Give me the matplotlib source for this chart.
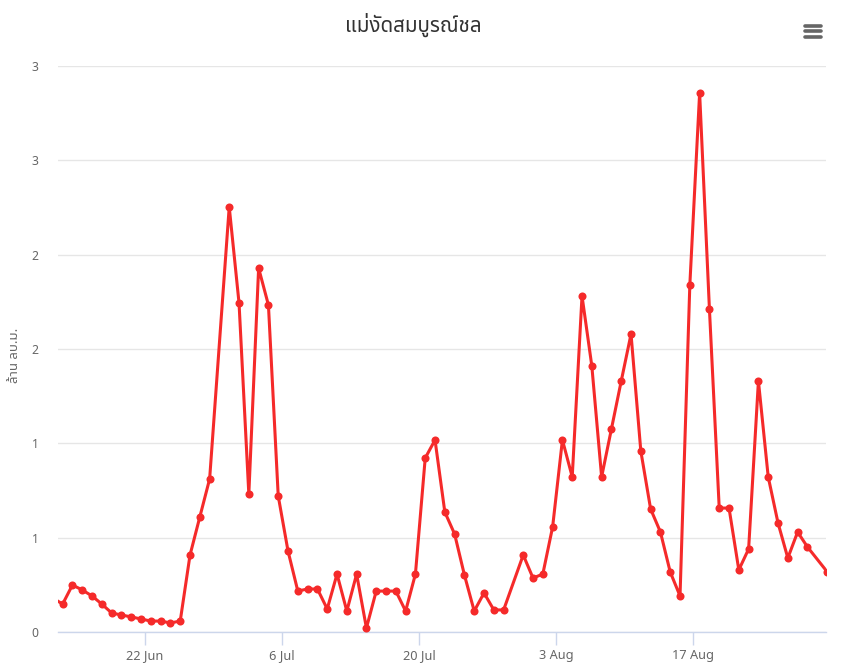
import matplotlib
matplotlib.use('Agg')
import matplotlib.pyplot as plt
from matplotlib import font_manager
import pandas as pd

title = 'แม่งัดสมบูรณ์ชล'
ylabel = 'ล้าน ลบ.ม.'

# daily volume, million m3 (30 Jun and 30 Jul have no reading)
dates = (
    ['2023-06-13'] +
    ['2023-06-%02d' % d for d in range(14, 30)] +
    ['2023-07-%02d' % d for d in range(1, 30)] +
    ['2023-07-31'] +
    ['2023-08-%02d' % d for d in range(1, 30)] +
    ['2023-08-31']
)
values = [
    0.18,
    0.148, 0.249, 0.223, 0.191, 0.148, 0.101, 0.090, 0.080, 0.069, 0.058,
    0.058, 0.048, 0.058, 0.408, 0.610, 0.811,
    2.253, 1.744, 0.731, 1.929, 1.733, 0.721, 0.429, 0.217, 0.228, 0.228,
    0.122, 0.307, 0.111, 0.307, 0.021, 0.217, 0.217, 0.217, 0.111, 0.307,
    0.922, 1.018, 0.636, 0.519, 0.302, 0.111, 0.207, 0.117, 0.117,
    0.408,
    0.286, 0.307, 0.557, 1.018, 0.822, 1.781, 1.410, 0.822, 1.076, 1.330,
    1.579, 0.959, 0.652, 0.530, 0.318, 0.191, 1.839, 2.857, 1.712, 0.657,
    0.657, 0.329, 0.440, 1.330, 0.822, 0.578, 0.392, 0.530, 0.451,
    0.32,
]
tick_dates = ['2023-06-22', '2023-07-06', '2023-07-20', '2023-08-03', '2023-08-17']
tick_labels = ['22 Jun', '6 Jul', '20 Jul', '3 Aug', '17 Aug']
yticks = [0, 0.5, 1.0, 1.5, 2.0, 2.5, 3.0]
ytick_labels = ['0', '1', '1', '2', '2', '3', '3']


def pick_font(names):
    have = {f.name for f in font_manager.fontManager.ttflist}
    out = [n for n in names if n in have]
    return out + ['DejaVu Sans']


fonts = pick_font(['Noto Sans Thai', 'Sarabun', 'Noto Sans Thai UI', 'Prompt'])
plt.rcParams['font.family'] = fonts

# readings are stamped in local time, ahead of the axis clock
x = pd.to_datetime(dates) - pd.Timedelta(hours=9)
ticks = pd.to_datetime(tick_dates)

fig = plt.figure(figsize=(8.44, 6.63), dpi=100)
ax = fig.add_axes([58 / 844, 31 / 663, 768 / 844, 566 / 663])

ax.plot(x, values, color='#f52a2a', lw=2.2, marker='o', ms=5.8,
        markeredgewidth=0, solid_joinstyle='round', zorder=3)

ax.set_xlim(pd.Timestamp('2023-06-13 03:40'), pd.Timestamp('2023-08-30 12:30'))
ax.set_ylim(0, 3.0)

ax.set_yticks(yticks)
ax.set_yticklabels(ytick_labels)
ax.set_xticks(ticks)
ax.set_xticklabels(tick_labels)

ax.grid(axis='y', color='#e6e6e6', lw=1)
ax.set_axisbelow(True)
for s in ['top', 'right', 'left']:
    ax.spines[s].set_visible(False)
ax.spines['bottom'].set_color('#ccd6eb')
ax.spines['bottom'].set_linewidth(1)
ax.tick_params(axis='y', length=0, pad=14, labelsize=8.8, labelcolor='#666666')
ax.tick_params(axis='x', length=9, width=1, color='#ccd6eb', pad=3,
               labelsize=9.2, labelcolor='#666666')

fig.text(15 / 844, 1 - 355 / 663, ylabel, rotation=90, ha='center', va='center',
         fontsize=9.5, color='#666666')
fig.text(0.49, 0.962, title, ha='center', va='center', fontsize=14.8,
         color='#333333')

# menu button
for yy in [0.9605, 0.9525, 0.9445]:
    fig.add_artist(plt.Line2D([805 / 844, 821 / 844], [yy, yy], color='#666666',
                              lw=2.6, solid_capstyle='round'))

fig.savefig('out.png')
